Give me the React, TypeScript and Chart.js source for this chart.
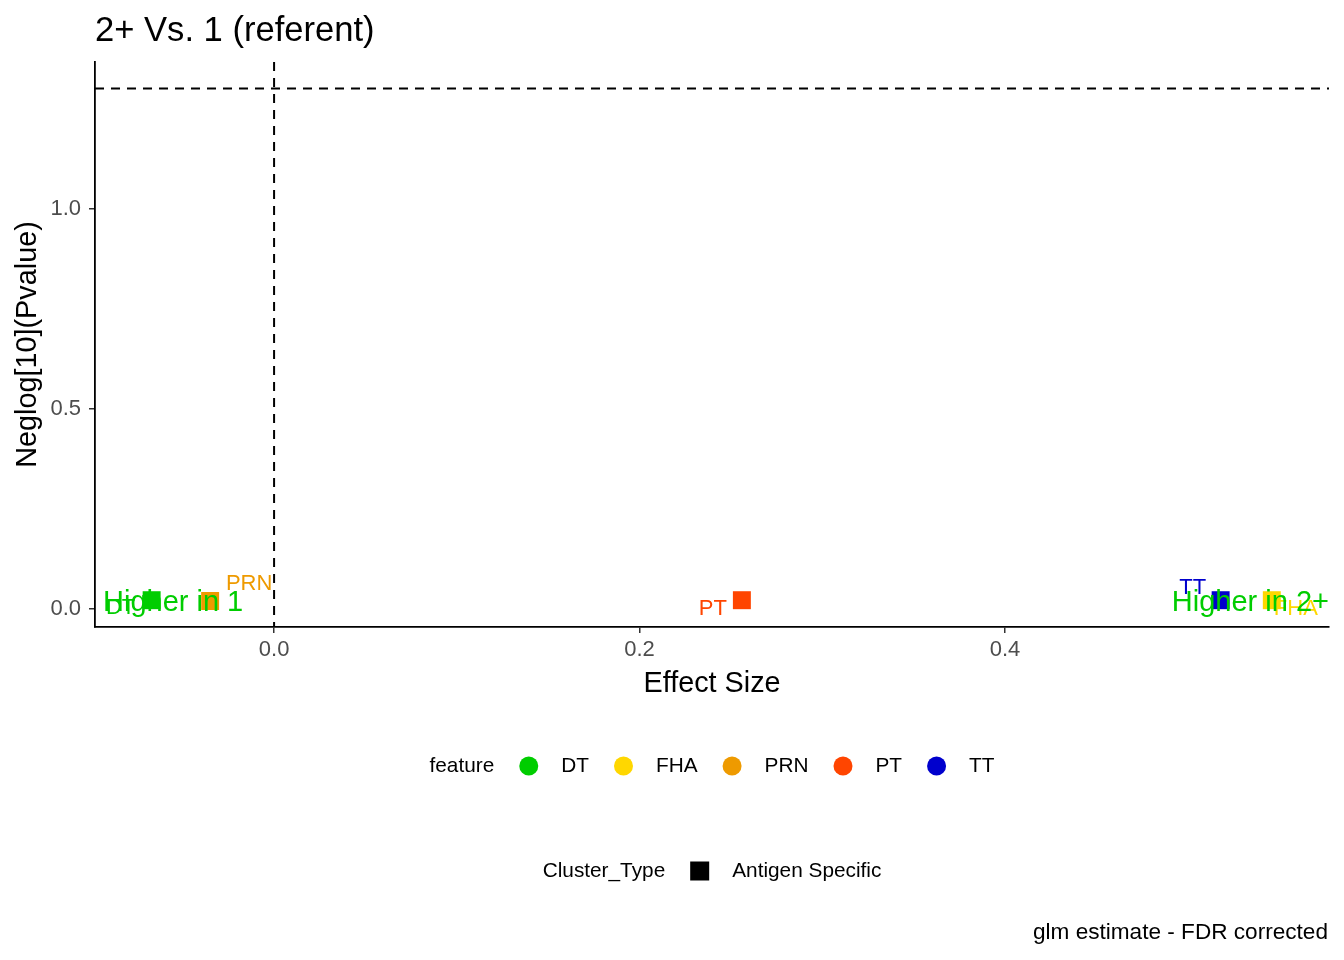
import { useEffect, useRef } from 'react';
import Chart from 'chart.js/auto';

const FONT = '"Liberation Sans", Arial, sans-serif';

// glm effect sizes vs. -log10(FDR p), one square per antigen
const features = ['DT', 'FHA', 'PRN', 'PT', 'TT'];
const featureColors = ['#00CD00', '#FFD700', '#EE9A00', '#FF4500', '#0000CD'];
const effectSize = [-0.067, 0.546, -0.035, 0.256, 0.518];
const negLogP = [0.022, 0.022, 0.02, 0.022, 0.022];

const xTicks = [0, 0.2, 0.4];
const yTicks = [0, 0.5, 1.0];
const fdrCutoff = 1.30103; // -log10(0.05)

const clusterTypes = ['Antigen Specific'];

// repel-style label nudges (px) relative to each point
const labelNudges: [number, number][] = [
  [-31, 8],
  [24, 9],
  [39, -17],
  [-29, 9],
  [-28, -12],
];

const overlayPlugin = {
  id: 'ggOverlay',
  beforeDatasetsDraw(chart: any) {
    const { ctx, chartArea, scales } = chart;
    const x0 = scales.x.getPixelForValue(0);
    const yCut = scales.y.getPixelForValue(fdrCutoff);
    ctx.save();
    ctx.strokeStyle = '#000';
    ctx.lineWidth = 2;
    ctx.setLineDash([9, 7]);
    ctx.beginPath();
    ctx.moveTo(chartArea.left, yCut);
    ctx.lineTo(chartArea.right, yCut);
    ctx.moveTo(x0, chartArea.top);
    ctx.lineTo(x0, chartArea.bottom);
    ctx.stroke();
    ctx.restore();
  },
  afterDatasetsDraw(chart: any) {
    const { ctx, chartArea, scales } = chart;
    ctx.save();
    ctx.textBaseline = 'middle';

    // point labels
    ctx.font = `22px ${FONT}`;
    ctx.textAlign = 'center';
    features.forEach((f, i) => {
      const px = scales.x.getPixelForValue(effectSize[i]) + labelNudges[i][0];
      const py = scales.y.getPixelForValue(negLogP[i]) + labelNudges[i][1];
      ctx.fillStyle = featureColors[i];
      ctx.fillText(f, px, py);
    });

    // direction annotations
    const yAnn = scales.y.getPixelForValue(0.015);
    ctx.font = `29px ${FONT}`;
    ctx.fillStyle = '#00CD00';
    ctx.textAlign = 'left';
    ctx.fillText('Higher in 1', chartArea.left + 8, yAnn);
    ctx.textAlign = 'right';
    ctx.fillText('Higher in 2+', chartArea.right, yAnn);
    ctx.restore();
  },
  afterDraw(chart: any) {
    const { ctx, chartArea, width } = chart;
    const cx = (chartArea.left + chartArea.right) / 2;
    ctx.save();
    ctx.fillStyle = '#000';
    ctx.textBaseline = 'middle';

    // title
    ctx.font = `34.6px ${FONT}`;
    ctx.textAlign = 'left';
    ctx.fillText('2+ Vs. 1 (referent)', chartArea.left, 31);

    // axis titles
    ctx.font = `28.8px ${FONT}`;
    ctx.textAlign = 'center';
    ctx.fillText('Effect Size', cx, 684);
    ctx.save();
    ctx.translate(28, (chartArea.top + chartArea.bottom) / 2);
    ctx.rotate(-Math.PI / 2);
    ctx.fillText('Neglog[10](Pvalue)', 0, 0);
    ctx.restore();

    // feature legend
    ctx.font = `20.8px ${FONT}`;
    ctx.textAlign = 'left';
    const gapIn = 23;
    const gapOut = 25;
    const key = 19;
    let total = ctx.measureText('feature').width;
    features.forEach((f) => {
      total += gapOut + key + gapIn + ctx.measureText(f).width;
    });
    let lx = cx - total / 2;
    const ly = 766;
    ctx.fillStyle = '#000';
    ctx.fillText('feature', lx, ly);
    lx += ctx.measureText('feature').width + gapOut;
    features.forEach((f, i) => {
      ctx.fillStyle = featureColors[i];
      ctx.beginPath();
      ctx.arc(lx + key / 2, ly, key / 2, 0, Math.PI * 2);
      ctx.fill();
      lx += key + gapIn;
      ctx.fillStyle = '#000';
      ctx.fillText(f, lx, ly);
      lx += ctx.measureText(f).width + gapOut;
    });

    // cluster type legend
    const cy = 871;
    let total2 = ctx.measureText('Cluster_Type').width;
    clusterTypes.forEach((c) => {
      total2 += gapOut + key + gapIn + ctx.measureText(c).width;
    });
    let cxl = cx - total2 / 2;
    ctx.fillText('Cluster_Type', cxl, cy);
    cxl += ctx.measureText('Cluster_Type').width + gapOut;
    clusterTypes.forEach((c) => {
      ctx.fillRect(cxl, cy - key / 2, key, key);
      cxl += key + gapIn;
      ctx.fillText(c, cxl, cy);
      cxl += ctx.measureText(c).width + gapOut;
    });

    // caption
    ctx.font = `22.6px ${FONT}`;
    ctx.textAlign = 'right';
    ctx.fillText('glm estimate - FDR corrected', width - 16, 933);
    ctx.restore();
  },
};

export default function App() {
  const canvasRef = useRef<HTMLCanvasElement>(null);

  useEffect(() => {
    const canvas = canvasRef.current;
    if (!canvas) return;
    Chart.defaults.font.family = FONT;

    const chart = new Chart(canvas, {
      type: 'scatter',
      data: {
        datasets: [
          {
            label: 'Antigen Specific',
            data: effectSize.map((x, i) => ({ x, y: negLogP[i] })),
            pointStyle: 'rect',
            pointRadius: 12.7,
            pointHoverRadius: 12.7,
            pointBorderWidth: 0,
            pointBackgroundColor: featureColors,
            backgroundColor: featureColors,
          },
        ],
      },
      options: {
        animation: false,
        responsive: true,
        maintainAspectRatio: false,
        layout: { padding: { top: 62, right: 15, bottom: 253, left: 0 } },
        plugins: {
          legend: { display: false },
          tooltip: { enabled: false },
          title: { display: false },
        },
        scales: {
          x: {
            type: 'linear',
            min: -0.098,
            max: 0.5773,
            afterBuildTicks: (s: any) => {
              s.ticks = xTicks.map((value) => ({ value }));
            },
            afterFit: (s: any) => {
              s.height = 80;
            },
            ticks: {
              color: '#4D4D4D',
              font: { size: 22 },
              padding: 4,
              callback: (v: any) => Number(v).toFixed(1),
            },
            grid: {
              display: true,
              drawOnChartArea: false,
              drawTicks: true,
              tickLength: 6,
              color: '#333333',
              lineWidth: 1.5,
            },
            border: { display: true, color: '#000', width: 1.8 },
          },
          y: {
            type: 'linear',
            min: -0.045,
            max: 1.3675,
            afterBuildTicks: (s: any) => {
              s.ticks = yTicks.map((value) => ({ value }));
            },
            afterFit: (s: any) => {
              s.width = 95;
            },
            ticks: {
              color: '#4D4D4D',
              font: { size: 22 },
              padding: 8,
              callback: (v: any) => Number(v).toFixed(1),
            },
            grid: {
              display: true,
              drawOnChartArea: false,
              drawTicks: true,
              tickLength: 6,
              color: '#333333',
              lineWidth: 1.5,
            },
            border: { display: true, color: '#000', width: 1.8 },
          },
        },
      },
      plugins: [overlayPlugin],
    });

    return () => chart.destroy();
  }, []);

  return (
    <div
      style={{
        position: 'fixed',
        left: 0,
        top: 0,
        width: 1344,
        height: 960,
        background: '#fff',
      }}
    >
      <canvas ref={canvasRef} />
    </div>
  );
}
